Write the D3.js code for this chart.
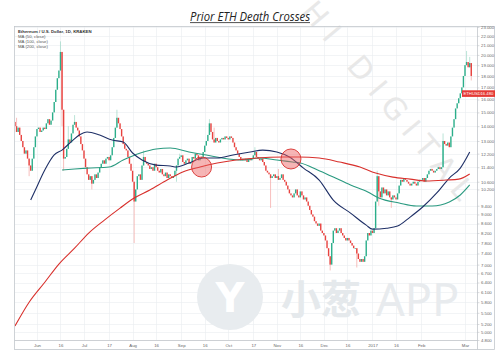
<!DOCTYPE html>
<html><head><meta charset="utf-8">
<script src="https://cdn.jsdelivr.net/npm/d3@7"></script>
<style>body{margin:0;background:#fff}svg{display:block}</style>
</head><body><svg id="c" width="500" height="361"></svg>
<script>
// ---------------- DATA ----------------
const startDate = "2016-05-18";
const firstOpen = 14.3;
const closesMay = [14.0,13.6,13.9,13.4,13.0,12.6,12.2,12.4,11.9,11.5,11.2,11.9,12.6,13.3];
const closesJun = [13.8,13.9,13.6,13.7,13.9,13.8,14.2,14.5,14.1,14.4,15.0,15.8,16.8,17.8,18.5,20.3,15.2,11.9,12.0,12.5,13.1,12.9,13.5,14.1,14.3,13.9,13.7,13.3,12.8,12.4];
const closesJul = [11.9,11.4,11.0,10.7,10.9,10.5,10.7,11.0,10.8,11.1,11.4,11.6,11.8,11.6,11.9,12.0,11.8,12.1,12.6,13.2,13.9,14.6,14.2,13.8,13.3,12.8,12.5,12.4,12.0,11.6,11.2];
const closesAug = [10.6,9.6,10.2,10.9,11.0,10.7,11.5,12.0,11.7,11.6,11.5,11.3,11.4,11.2,11.6,11.4,11.2,11.1,11.3,11.0,10.9,11.1,10.8,11.0,10.9,10.8,10.9,11.2,11.5,11.9,12.0];
const closesSep = [12.1,11.7,11.6,11.8,11.9,11.6,11.7,12.0,11.9,12.2,12.1,11.8,11.9,12.0,12.3,12.7,13.0,13.4,14.2,13.6,13.1,12.9,13.2,13.0,12.9,13.1,13.2,13.1,13.3,13.2];
const closesOct = [13.1,13.3,13.2,12.9,12.6,12.4,12.2,12.0,11.8,11.9,11.8,11.9,11.7,11.9,11.8,11.9,12.1,12.3,12.0,11.9,11.8,11.9,11.7,11.5,11.2,11.1,11.0,10.8,10.9,11.0,10.8];
const closesNov = [10.9,10.7,10.8,11.0,10.7,10.6,10.4,10.2,10.0,9.9,9.8,10.0,10.2,9.9,9.8,10.1,9.9,9.7,9.8,9.6,9.4,9.2,9.0,8.9,8.7,8.6,8.5,8.6,8.3,8.2];
const closesDec = [8.1,7.9,7.6,7.3,7.0,7.8,8.3,8.4,8.2,8.3,8.4,8.2,8.1,8.0,7.9,8.0,7.9,7.8,7.7,7.6,7.6,7.4,7.2,7.1,7.2,7.1,7.3,7.9,8.2,8.1,8.3];
const closesJan = [8.2,8.4,9.6,10.9,10.1,9.8,10.3,10.0,10.2,9.9,10.1,9.8,9.7,9.9,9.8,9.7,10.0,10.4,10.7,10.6,10.8,10.7,10.6,10.5,10.4,10.5,10.6,10.5,10.4,10.6,10.7];
const closesFeb = [10.7,10.8,10.6,10.8,11.0,11.2,11.3,11.2,11.1,11.2,11.3,11.4,11.3,11.4,13.0,12.8,12.7,12.9,12.6,13.3,13.9,14.5,15.3,15.7,16.1,16.5,17.0,18.0];
const closesMar = [19.0,19.3,18.8,19.2,18.0];

const wickHigh = [["2016-05-19",14.6],["2016-06-16",21.4],["2016-06-21",14.0],["2016-06-25",14.8],["2016-07-22",15.2],["2016-08-08",12.4],["2016-08-31",12.2],["2016-09-19",14.5],["2016-09-22",13.9],["2016-10-18",12.6],["2016-11-02",11.3],["2017-01-04",11.2],["2017-02-15",13.5],["2017-03-02",20.4],["2017-03-04",19.8]];
const wickLow = [["2016-05-27",10.9],["2016-06-17",14.0],["2016-06-18",11.2],["2016-07-06",10.2],["2016-08-02",7.8],["2016-08-29",10.6],["2016-10-28",9.3],["2016-11-22",9.4],["2016-12-05",6.8],["2016-12-22",6.9],["2017-01-05",9.4],["2017-01-13",9.3],["2017-03-05",17.6]];

const ma50 = [["2016-05-28",9.67],["2016-05-31",10.17],["2016-06-06",11.24],["2016-06-12",12.12],["2016-06-17",12.42],["2016-06-24",13.06],["2016-06-28",13.39],["2016-07-03",13.6],["2016-07-11",13.39],["2016-07-19",13.06],["2016-07-26",12.93],["2016-08-01",12.24],["2016-08-07",11.82],["2016-08-16",11.52],["2016-08-25",11.47],["2016-08-29",11.41],["2016-09-06",11.64],["2016-09-15",11.94],["2016-09-24",11.94],["2016-10-04",12.12],["2016-10-15",12.3],["2016-10-23",12.42],["2016-11-01",12.3],["2016-11-09",12.0],["2016-11-18",11.35],["2016-11-28",10.69],["2016-12-07",9.67],["2016-12-18",9.06],["2016-12-28",8.53],["2017-01-01",8.36],["2017-01-10",8.4],["2017-01-17",8.49],["2017-01-25",8.88],["2017-02-02",9.34],["2017-02-11",10.02],["2017-02-19",10.8],["2017-02-26",11.35],["2017-03-04",12.3]];
const ma100 = [["2016-06-17",11.24],["2016-06-25",11.3],["2016-07-03",11.35],["2016-07-17",11.41],["2016-07-26",11.82],["2016-08-06",12.24],["2016-08-16",12.49],["2016-08-25",12.55],["2016-09-06",12.3],["2016-09-17",12.12],["2016-09-27",11.94],["2016-10-10",11.82],["2016-10-21",11.94],["2016-11-01",11.82],["2016-11-11",11.7],["2016-11-16",11.64],["2016-11-27",11.24],["2016-12-07",10.85],["2016-12-18",10.43],["2016-12-29",10.07],["2017-01-05",9.77],["2017-01-18",9.53],["2017-01-29",9.39],["2017-02-08",9.39],["2017-02-19",9.58],["2017-02-26",9.92],["2017-03-04",10.43]];
const ma200 = [["2016-05-18",5.15],["2016-05-27",5.8],["2016-06-06",6.41],["2016-06-15",7.02],["2016-06-25",7.6],["2016-07-04",8.2],["2016-07-14",8.75],["2016-07-24",9.29],["2016-08-02",9.77],["2016-08-12",10.17],["2016-08-23",10.69],["2016-09-02",11.13],["2016-09-13",11.41],["2016-09-24",11.64],["2016-10-06",11.82],["2016-10-19",11.94],["2016-11-05",12.0],["2016-11-15",12.0],["2016-11-28",11.94],["2016-12-11",11.7],["2016-12-24",11.41],["2017-01-03",11.07],["2017-01-14",10.85],["2017-01-25",10.74],["2017-02-04",10.64],["2017-02-17",10.69],["2017-02-25",10.74],["2017-03-04",11.02]];

const crosses = [["2016-09-14",11.41],["2016-11-10",11.88]];
const lastPrice = 16.48;

const yTicks = [23,22,21,20,19,18,17,16,15,14,13,12.2,11.4,10.6,10.2,9.4,9.0,8.6,8.2,7.8,7.4,7.0,6.7,6.4,6.1,5.8,5.5,5.2,5.0,4.8];
const xTickDates = ["2016-06-01","2016-06-16","2016-07-01","2016-07-17","2016-08-01","2016-08-16","2016-09-01","2016-09-16","2016-10-01","2016-10-17","2016-11-01","2016-11-16","2016-12-01","2016-12-16","2017-01-01","2017-01-16","2017-02-01","2017-03-01"];
const xTickLabels = ["Jun","16","Jul","17","Aug","16","Sep","16","Oct","17","Nov","16","Dec","16","2017","16","Feb","Mar"];

const titleText = "Prior ETH Death Crosses";
const legendLines = ["Ethereum / U.S. Dollar, 1D, KRAKEN","MA (50, close)","MA (100, close)","MA (200, close)"];

// ---------------- DRAW ----------------
const parse = d3.utcParse("%Y-%m-%d");
const closes = [].concat(closesMay,closesJun,closesJul,closesAug,closesSep,closesOct,closesNov,closesDec,closesJan,closesFeb,closesMar);
const t0 = parse(startDate);
const hiMap = new Map(wickHigh.map(d=>[d[0],d[1]]));
const loMap = new Map(wickLow.map(d=>[d[0],d[1]]));
const fmtD = d3.utcFormat("%Y-%m-%d");
const candles = closes.map((c,i)=>{
  const date = d3.utcDay.offset(t0,i);
  const o = i===0 ? firstOpen : closes[i-1];
  const k = fmtD(date);
  return {date,o,c,h:Math.max(o,c,hiMap.get(k)||0),l:Math.min(o,c,loMap.get(k)||99)};
});

const P = {l:15, r:477, t:26, b:340};
const x = d3.scaleUtc().domain([parse("2016-05-18"), parse("2017-03-01")]).range([15, 465]);
const y = d3.scaleLog().domain([4.8, 23]).range([340, 27]);

const svg = d3.select("#c");
svg.append("rect").attr("width",500).attr("height",361).attr("fill","#fff");

svg.append("defs").append("clipPath").attr("id","clip")
  .append("rect").attr("x",P.l).attr("y",P.t).attr("width",P.r-P.l).attr("height",P.b-P.t);

// grid
const grid = svg.append("g").attr("stroke","#e9ecf0").attr("stroke-width",0.6);
grid.selectAll(".gy").data(yTicks).join("line")
  .attr("x1",P.l).attr("x2",P.r).attr("y1",d=>Math.round(y(d))+0.5).attr("y2",d=>Math.round(y(d))+0.5);
grid.selectAll(".gx").data(xTickDates).join("line")
  .attr("y1",P.t).attr("y2",P.b).attr("x1",d=>Math.round(x(parse(d)))+0.5).attr("x2",d=>Math.round(x(parse(d)))+0.5);

// watermarks
const wm = svg.append("g");
wm.append("text").attr("transform","translate(300,12) rotate(50)")
  .attr("font-family","DejaVu Sans").attr("font-size",30).attr("letter-spacing",10)
  .attr("fill","#e8e8e8").text("HI DIGITAL");
wm.append("circle").attr("cx",230).attr("cy",297).attr("r",33).attr("fill","#e8ecef");
wm.append("text").attr("x",230).attr("y",312).attr("text-anchor","middle")
  .attr("font-family","DejaVu Sans").attr("font-weight","bold").attr("font-size",40).attr("fill","#fff").text("Y");
wm.append("text").attr("x",281).attr("y",314).attr("font-family","Noto Sans CJK SC")
  .attr("font-weight","bold").attr("font-size",40).attr("fill","#e5e9ec").text("小葱");
wm.append("text").attr("x",376).attr("y",316).attr("font-family","Noto Sans")
  .attr("font-size",45).attr("fill","#e8ebee").text("APP");

// candles
const cg = svg.append("g").attr("clip-path","url(#clip)");
const up = "#2bae8a", dn = "#e8423f";
cg.selectAll(".w").data(candles.filter(d=>d.h>Math.max(d.o,d.c)||d.l<Math.min(d.o,d.c))).join("line")
  .attr("x1",d=>x(d.date)).attr("x2",d=>x(d.date))
  .attr("y1",d=>y(d.h)).attr("y2",d=>y(d.l))
  .attr("stroke",d=>d.c>=d.o?"#9ed8c6":"#f3a3a1").attr("stroke-width",0.7);
cg.selectAll(".b").data(candles).join("rect")
  .attr("x",d=>x(d.date)-0.7).attr("width",1.4)
  .attr("y",d=>y(Math.max(d.o,d.c)))
  .attr("height",d=>Math.max(0.7,y(Math.min(d.o,d.c))-y(Math.max(d.o,d.c))))
  .attr("fill",d=>d.c>=d.o?up:dn);

// moving averages
const line = d3.line().x(d=>x(parse(d[0]))).y(d=>y(d[1])).curve(d3.curveMonotoneX);
const mg = svg.append("g").attr("clip-path","url(#clip)").attr("fill","none").attr("stroke-width",1.1);
mg.append("path").attr("d",line(ma100)).attr("stroke","#2a9a80");
mg.append("path").attr("d",line(ma50)).attr("stroke","#1e2f66");
mg.append("path").attr("d",line(ma200)).attr("stroke","#d8302c");

// cross circles
svg.append("g").selectAll("circle").data(crosses).join("circle")
  .attr("cx",d=>x(parse(d[0]))).attr("cy",d=>y(d[1])).attr("r",10)
  .attr("fill","rgba(236,90,90,0.45)").attr("stroke","#d8302c").attr("stroke-width",0.9);

// frame
const fr = svg.append("g").attr("fill","none").attr("stroke","#c3c7cc").attr("stroke-width",0.8);
fr.append("rect").attr("x",14.5).attr("y",26.5).attr("width",480).attr("height",323);
fr.append("line").attr("x1",14.5).attr("x2",477.5).attr("y1",340.5).attr("y2",340.5);
fr.append("line").attr("x1",477.5).attr("x2",477.5).attr("y1",26.5).attr("y2",349.5);

// y axis
const ya = svg.append("g").attr("transform","translate(477.5,0)")
  .call(d3.axisRight(y).tickValues(yTicks).tickSize(2).tickPadding(1.5).tickFormat(d3.format(".3f")));
ya.select(".domain").remove();
ya.selectAll("line").attr("stroke","#b5b9bf").attr("stroke-width",0.5);
ya.selectAll("text").attr("font-family","Liberation Sans").attr("font-size",4.3).attr("fill","#666");

// x axis
const xa = svg.append("g").attr("transform","translate(0,341)")
  .call(d3.axisBottom(x).tickValues(xTickDates.map(parse)).tickSize(0).tickPadding(2.5).tickFormat((d,i)=>xTickLabels[i]));
xa.select(".domain").remove();
xa.selectAll("text").attr("font-family","Liberation Sans").attr("font-size",4.3).attr("fill","#666");

// last price label
const ly = y(lastPrice);
svg.append("rect").attr("x",462).attr("y",ly-3.3).attr("width",33).attr("height",6.6).attr("fill","#e53935");
svg.append("text").attr("x",463.5).attr("y",ly+1.5).attr("font-family","Liberation Sans").attr("font-size",4.2).attr("fill","#fff").text("ETHUSD");
svg.append("text").attr("x",480.5).attr("y",ly+1.5).attr("font-family","Liberation Sans").attr("font-size",4.2).attr("fill","#fff").text(d3.format(".3f")(lastPrice));

// legend
svg.append("g").selectAll("text").data(legendLines).join("text")
  .attr("x",18).attr("y",(d,i)=>32.5+i*5)
  .attr("font-family","Liberation Sans").attr("font-size",4.3)
  .attr("font-weight",(d,i)=>i===0?"bold":"normal")
  .attr("fill",(d,i)=>i===0?"#333":"#555").text(d=>d);

// title
const tt = svg.append("text").attr("x",250).attr("y",20.5).attr("text-anchor","middle")
  .attr("font-family","Open Sans").attr("font-style","italic").attr("font-size",12)
  .attr("fill","#222").text(titleText);
const tw = tt.node().getComputedTextLength();
if (tw > 122) tt.attr("textLength",120).attr("lengthAdjust","spacingAndGlyphs");
const w = Math.min(tw,120);
svg.append("line").attr("x1",250-w/2).attr("x2",250+w/2).attr("y1",22.6).attr("y2",22.6)
  .attr("stroke","#222").attr("stroke-width",0.8);
</script></body></html>
